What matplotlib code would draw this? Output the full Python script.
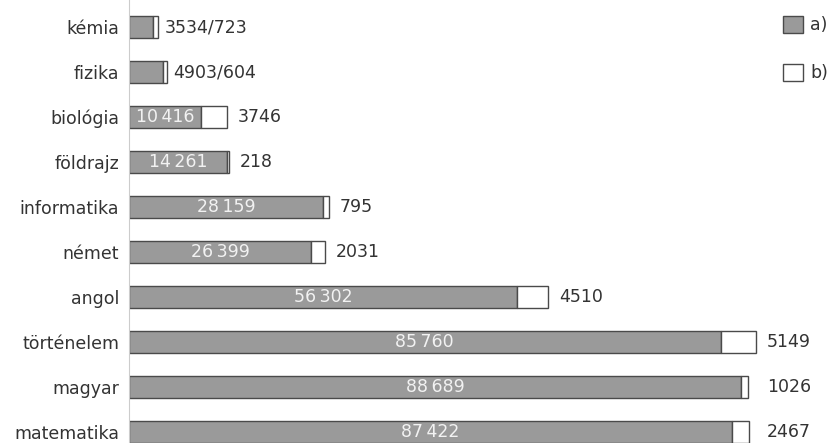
import matplotlib.pyplot as plt
from matplotlib.patches import Patch

# adatok
subjects = ["kémia", "fizika", "biológia", "földrajz", "informatika",
            "német", "angol", "történelem", "magyar", "matematika"]
a_vals = [3534, 4903, 10416, 14261, 28159, 26399, 56302, 85760, 88689, 87422]
b_vals = [723, 604, 3746, 218, 795, 2031, 4510, 5149, 1026, 2467]


def fmt(n):
    s = f"{n:,}"
    return s.replace(",", "\u2009")


def main():
    plt.rcParams["font.family"] = ["DejaVu Sans"]
    fig = plt.figure(figsize=(8.27, 4.43), dpi=100)
    ax = fig.add_axes([0.156, 0.0, 0.794, 1.0])

    fs = 12.5
    txt = "#333333"
    ys = list(range(len(subjects)))
    h = 0.5
    ax.barh(ys, a_vals, height=h, color="#9a9a9a", edgecolor="#4a4a4a", linewidth=1)
    ax.barh(ys, b_vals, left=a_vals, height=h, color="white", edgecolor="#4a4a4a", linewidth=1)

    totals = [a + b for a, b in zip(a_vals, b_vals)]
    big = max(totals[-3:])
    for i, (a, b, t) in enumerate(zip(a_vals, b_vals, totals)):
        if a < 8000:
            ax.text(t + 900, i, f"{a}/{b}", va="center", ha="left", fontsize=fs, color=txt)
            continue
        ax.text(a / 2, i, fmt(a), va="center", ha="center", fontsize=fs, color="#f2f2f2")
        x = big if i >= 7 else t
        ax.text(x + 1600, i, str(b), va="center", ha="left", fontsize=fs, color=txt)

    ax.set_xlim(0, 95200)
    ax.set_ylim(9.244, -0.6)
    ax.set_yticks(ys)
    ax.set_yticklabels(subjects, fontsize=fs, color=txt)
    ax.tick_params(axis="y", length=0, pad=7)
    ax.set_xticks([])
    for s in ["top", "right", "bottom"]:
        ax.spines[s].set_visible(False)
    ax.spines["left"].set_color("#cccccc")

    handles = [Patch(facecolor="#9a9a9a", edgecolor="#4a4a4a", label="a)"),
               Patch(facecolor="white", edgecolor="#4a4a4a", label="b)")]
    fig.legend(handles=handles, loc="upper right", bbox_to_anchor=(1.02, 1.0),
               frameon=False, fontsize=fs, handlelength=1.15, handleheight=1.15,
               handletextpad=0.4, labelspacing=1.7, labelcolor=txt)

    fig.savefig("out.png", dpi=100)


if __name__ == "__main__":
    main()
